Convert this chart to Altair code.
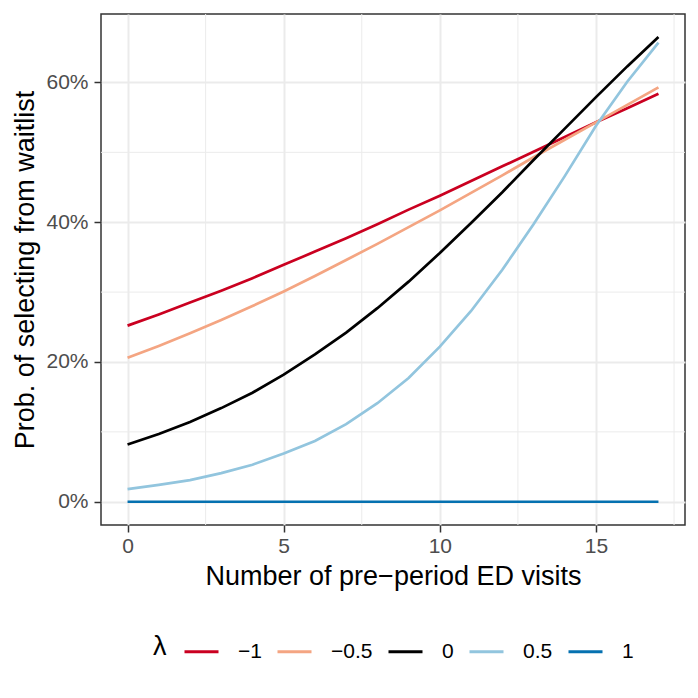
import altair as alt
import pandas as pd

visits = list(range(18))
lambda_levels = ["−1", "−0.5", "0", "0.5", "1"]
colors = ["#CA0020", "#F4A582", "#000000", "#92C5DE", "#0571B0"]

p_m1 = [0.252, 0.268, 0.285, 0.302, 0.320, 0.339, 0.358, 0.377, 0.397, 0.418,
        0.438, 0.459, 0.480, 0.501, 0.522, 0.543, 0.563, 0.584]
p_m05 = [0.206, 0.223, 0.241, 0.260, 0.280, 0.301, 0.323, 0.346, 0.369, 0.393,
         0.417, 0.442, 0.467, 0.493, 0.518, 0.543, 0.568, 0.593]
p_0 = [0.082, 0.097, 0.114, 0.134, 0.156, 0.182, 0.211, 0.242, 0.277, 0.315,
       0.356, 0.399, 0.443, 0.489, 0.534, 0.579, 0.623, 0.665]
p_05 = [0.018, 0.024, 0.031, 0.041, 0.053, 0.069, 0.087, 0.111, 0.141, 0.177,
        0.222, 0.273, 0.332, 0.397, 0.466, 0.538, 0.601, 0.657]
p_1 = [0.0] * 18

x_major = [0, 5, 10, 15]
x_minor = [2.5, 7.5, 12.5, 17.5]
y_major = [0.0, 0.2, 0.4, 0.6]
y_minor = [0.1, 0.3, 0.5]

series = [p_m1, p_m05, p_0, p_05, p_1]
rows = []
for lam, vals in zip(lambda_levels, series):
    for x, v in zip(visits, vals):
        rows.append({"visits": x, "prob": v, "lam": lam})
df = pd.DataFrame(rows)

xscale = alt.Scale(domain=[-0.85, 17.85], nice=False, zero=False)
yscale = alt.Scale(domain=[-0.0333, 0.698], nice=False, zero=False)

vminor = alt.Chart(pd.DataFrame({"v": x_minor})).mark_rule(
    color="#EBEBEB", strokeWidth=1
).encode(x=alt.X("v:Q", scale=xscale))
hminor = alt.Chart(pd.DataFrame({"v": y_minor})).mark_rule(
    color="#EBEBEB", strokeWidth=1
).encode(y=alt.Y("v:Q", scale=yscale))

lines = alt.Chart(df).mark_line(strokeWidth=2.7).encode(
    x=alt.X("visits:Q", scale=xscale,
            axis=alt.Axis(values=x_major, title="Number of pre−period ED visits",
                          grid=True, format="d", labelPadding=3)),
    y=alt.Y("prob:Q", scale=yscale,
            axis=alt.Axis(values=y_major, title="Prob. of selecting from waitlist",
                          grid=True, format=".0%", labelPadding=6)),
    color=alt.Color("lam:N", scale=alt.Scale(domain=lambda_levels, range=colors),
                    sort=lambda_levels,
                    legend=alt.Legend(title="λ", orient="none", direction="horizontal",
                                      legendX=52, legendY=619, titleOrient="left",
                                      titleFontSize=27, titleFontWeight="normal",
                                      titleColor="black", titlePadding=16,
                                      titleBaseline="middle",
                                      labelFontSize=21, labelColor="black",
                                      symbolType="stroke", symbolSize=1156,
                                      symbolStrokeWidth=2.8, labelOffset=18,
                                      columnPadding=9)),
)

chart = alt.layer(vminor, hminor, lines).properties(
    width=584, height=511,
    autosize=alt.AutoSizeParams(type="none"),
    padding={"left": 93, "top": 6, "right": 5, "bottom": 160},
).configure(
    font="Liberation Sans",
).configure_view(
    stroke="#333333", strokeWidth=1.5,
).configure_axis(
    domain=False, gridColor="#EBEBEB", gridWidth=2,
    tickColor="#333333", tickWidth=1.5, tickSize=7,
    labelColor="#4D4D4D", labelFontSize=21,
    titleFontSize=27, titleFontWeight="normal", titleColor="black",
).configure_axisX(
    titleY=51, titleBaseline="middle",
).configure_axisY(
    titleX=-76, titleBaseline="middle",
)

chart.save("out.html", embed_options={"renderer": "svg", "actions": False})
